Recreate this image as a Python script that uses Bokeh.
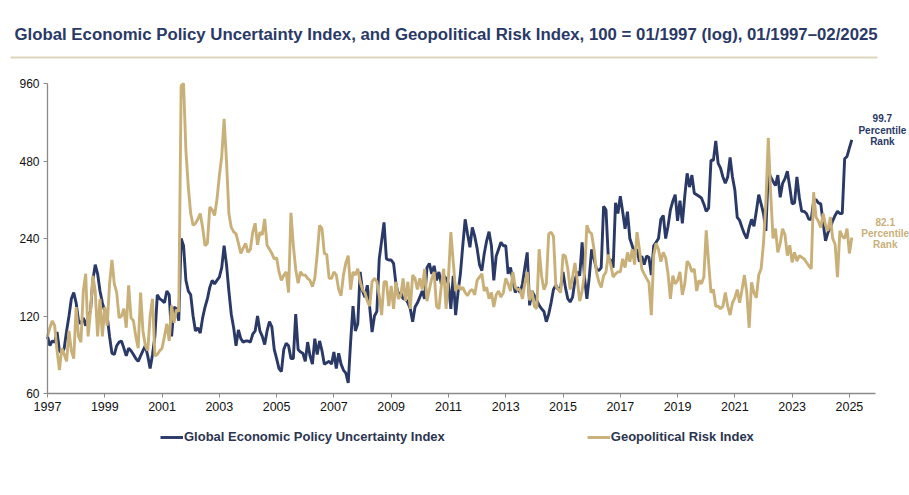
import pandas as pd
from bokeh.plotting import figure
from bokeh.models import (ColumnDataSource, Range1d, FixedTicker, NumeralTickFormatter,
                          Legend, LegendItem, Label, BoxAnnotation)
from bokeh.embed import file_html
from bokeh.resources import INLINE

NAVY = "#2a3966"
GOLD = "#c9b079"
FONT = "Liberation Sans"

title_text = ("Global Economic Policy Uncertainty Index, and Geopolitical Risk Index, "
              "100 = 01/1997 (log), 01/1997\u201302/2025")
epu_label = "Global Economic Policy Uncertainty Index"
gpr_label = "Geopolitical Risk Index"

# monthly values, 01/1997 .. 02/2025 (100 = 01/1997)
epu = [
    100, 92, 96, 95, 104, 88, 86, 90, 105, 120, 140, 148,        # 1997
    135, 115, 112, 118, 110, 120, 125, 165, 190, 175, 150, 135,  # 1998
    125, 120, 100, 86, 85, 92, 95, 96, 90, 84, 90, 88,           # 1999
    85, 82, 80, 84, 88, 92, 84, 75, 85, 100, 145, 140,           # 2000
    138, 135, 150, 145, 100, 130, 128, 115, 240, 225, 165, 150,  # 2001
    145, 120, 105, 108, 103, 118, 130, 140, 155, 165, 160, 165,  # 2002
    170, 185, 225, 190, 150, 122, 108, 92, 106, 98, 95, 96,      # 2003
    96, 95, 102, 105, 120, 105, 100, 93, 105, 114, 109, 89,      # 2004
    82, 75, 73, 89, 94, 92, 82, 82, 122, 89, 87, 86,             # 2005
    80, 95, 84, 78, 98, 85, 96, 88, 78, 79, 80, 78,              # 2006
    87, 75, 86, 78, 74, 72, 66, 95, 131, 105, 112, 178,          # 2007
    150, 142, 158, 130, 104, 120, 125, 200, 235, 277, 200, 198,  # 2008
    198, 192, 160, 145, 148, 140, 140, 135, 128, 114, 130, 135,  # 2009
    142, 150, 140, 185, 192, 175, 188, 165, 178, 160, 172, 168,  # 2010
    160, 128, 172, 121, 148, 175, 225, 285, 250, 222, 265, 245,  # 2011
    220, 190, 180, 210, 235, 255, 225, 165, 205, 218, 232, 225,  # 2012
    225, 175, 185, 165, 148, 155, 148, 160, 185, 212, 132, 150,  # 2013
    144, 138, 132, 128, 125, 114, 122, 135, 152, 158, 152, 155,  # 2014
    178, 155, 140, 136, 142, 165, 178, 172, 232, 170, 140, 170,  # 2015
    218, 200, 183, 180, 185, 320, 310, 200, 198, 185, 330, 300,  # 2016
    350, 305, 262, 305, 240, 225, 210, 218, 195, 205, 190, 205,  # 2017
    203, 173, 225, 232, 240, 285, 295, 240, 268, 310, 335, 355,  # 2018
    281, 337, 275, 350, 430, 380, 423, 360, 355, 350, 345, 327,  # 2019
    306, 315, 483, 483, 575, 470, 450, 416, 393, 416, 496, 416,  # 2020
    370, 290, 282, 265, 250, 240, 265, 285, 268, 306, 355, 327,  # 2021
    300, 257, 438, 416, 400, 385, 423, 347, 393, 410, 438, 380,  # 2022
    327, 330, 416, 347, 306, 306, 300, 285, 285, 335, 340, 330,  # 2023
    327, 275, 235, 253, 265, 281, 295, 306, 300, 300, 490, 500,  # 2024
    540, 580,                                                    # 2025
]
gpr = [
    100, 108, 115, 110, 88, 74, 90, 85, 80, 105, 88, 82,         # 1997
    130, 100, 95, 150, 175, 100, 125, 172, 150, 100, 140, 100,   # 1998
    130, 110, 160, 198, 160, 148, 118, 120, 128, 108, 158, 118,  # 1999
    115, 100, 90, 148, 105, 92, 88, 120, 140, 84, 85, 88,        # 2000
    90, 100, 112, 96, 132, 113, 127, 125, 940, 960, 527, 380,    # 2001
    300, 270, 275, 285, 300, 265, 225, 230, 318, 310, 295, 340,  # 2002
    420, 500, 700, 480, 300, 265, 255, 250, 230, 210, 220, 230,  # 2003
    212, 218, 254, 275, 227, 254, 248, 286, 226, 218, 210, 200,  # 2004
    202, 178, 165, 173, 178, 148, 302, 226, 182, 161, 178, 173,  # 2005
    173, 168, 165, 156, 168, 208, 270, 262, 210, 208, 168, 168,  # 2006
    178, 173, 152, 144, 173, 193, 206, 152, 178, 173, 183, 163,  # 2007
    152, 148, 137, 131, 163, 168, 163, 144, 121, 163, 163, 131,  # 2008
    157, 128, 163, 140, 144, 168, 137, 163, 128, 173, 168, 152,  # 2009
    168, 152, 183, 137, 152, 168, 178, 131, 128, 157, 183, 128,  # 2010
    170, 254, 195, 150, 158, 152, 155, 148, 144, 150, 152, 145,  # 2011
    165, 170, 175, 150, 155, 140, 148, 130, 145, 150, 142, 148,  # 2012
    168, 160, 150, 178, 155, 152, 152, 140, 160, 178, 138, 150,  # 2013
    131, 128, 218, 172, 152, 160, 250, 254, 245, 157, 152, 148,  # 2014
    208, 205, 183, 152, 170, 193, 165, 137, 150, 175, 270, 255,  # 2015
    250, 218, 178, 163, 155, 172, 178, 208, 190, 170, 175, 178,  # 2016
    178, 200, 185, 212, 195, 218, 190, 254, 218, 183, 175, 168,  # 2017
    162, 121, 206, 230, 218, 195, 212, 202, 175, 140, 172, 160,  # 2018
    165, 178, 145, 160, 196, 190, 178, 183, 150, 165, 160, 170,  # 2019
    258, 194, 148, 152, 131, 131, 128, 131, 148, 131, 121, 135,  # 2020
    141, 152, 135, 152, 173, 148, 108, 162, 148, 141, 173, 183,  # 2021
    230, 331, 590, 360, 240, 262, 212, 230, 262, 248, 206, 226,  # 2022
    194, 212, 196, 206, 203, 200, 194, 188, 183, 363, 291, 280,  # 2023
    265, 300, 270, 257, 291, 240, 228, 170, 257, 245, 240, 262,  # 2024
    210, 242,                                                    # 2025
]

x_ticks = list(range(1997, 2026, 2))
y_ticks = [60, 120, 240, 480, 960]

epu_rank = ["99.7", "Percentile", "Rank"]
gpr_rank = ["82.1", "Percentile", "Rank"]

dates = pd.date_range("1997-01-01", periods=len(epu), freq="MS")
src = ColumnDataSource(dict(t=dates.year + (dates.month - 1) / 12, epu=epu, gpr=gpr))

# canvas geometry: the frame fills the canvas, axes sit inside it at fixed places
W, H = 909, 490
X_LEFT, PX_YEAR = 47, 28.64        # pixel of 1997, pixels per year
Y_BASE, PX_DOUBLE = 393, 77.5      # pixel of 60, pixels per doubling
x_range = Range1d(1997 - X_LEFT / PX_YEAR, 1997 + (W - X_LEFT) / PX_YEAR)
y_range = Range1d(60 * 2 ** (-(H - Y_BASE) / PX_DOUBLE), 60 * 2 ** (Y_BASE / PX_DOUBLE))

p = figure(width=W, height=H, x_range=x_range, y_range=y_range, y_axis_type="log",
           toolbar_location=None, output_backend="svg", min_border=0)
p.grid.visible = False
p.outline_line_color = None

r1 = p.line("t", "epu", source=src, line_color=NAVY, line_width=2.9)
r2 = p.line("t", "gpr", source=src, line_color=GOLD, line_width=2.9)

p.xaxis.fixed_location = 60
p.yaxis.fixed_location = 1997
p.xaxis.ticker = FixedTicker(ticks=x_ticks)
p.xaxis.bounds = (1997, 2025.9)
p.yaxis.ticker = FixedTicker(ticks=y_ticks)
p.yaxis.bounds = (60, 960)
p.yaxis.formatter = NumeralTickFormatter(format="0")
for ax in (p.xaxis[0], p.yaxis[0]):
    ax.axis_line_color = "#8a8a8a"
    ax.axis_line_width = 1.3
    ax.major_tick_line_color = "#8a8a8a"
    ax.major_tick_out = 4
    ax.major_tick_in = 0
    ax.minor_tick_line_color = None
    ax.major_label_text_font = FONT
    ax.major_label_text_color = "#111111"
    ax.major_label_standoff = 4
p.xaxis.major_label_text_font_size = "12.5px"
p.yaxis.major_label_text_font_size = "12px"

# title and the rule under it
p.add_layout(Label(x=14, y=H - 34, x_units="screen", y_units="screen", text=title_text,
                   text_baseline="middle", text_font=FONT, text_font_style="bold",
                   text_font_size="16.8px", text_color=NAVY))
p.add_layout(BoxAnnotation(left=10, right=877, bottom=H - 58, top=H - 56,
                           left_units="screen", right_units="screen",
                           bottom_units="screen", top_units="screen",
                           fill_color="#ddd6be", fill_alpha=1, line_color=None))

legend = Legend(items=[LegendItem(label=epu_label, renderers=[r1]),
                       LegendItem(label=gpr_label, renderers=[r2])],
                orientation="horizontal", location=(160, H - 444), spacing=142,
                glyph_width=23, glyph_height=14, label_standoff=1, padding=0, margin=0,
                border_line_color=None, background_fill_alpha=0,
                label_text_font=FONT, label_text_font_style="bold",
                label_text_font_size="13px", label_text_color="#2c3550")
p.add_layout(legend)

for txt, yv in zip(epu_rank, [704, 631, 573]):
    p.add_layout(Label(x=2026.15, y=yv, text=txt, text_align="center", text_baseline="middle",
                       text_font=FONT, text_font_style="bold", text_font_size="10px",
                       text_color=NAVY))
for txt, yv in zip(gpr_rank, [278, 250, 227]):
    p.add_layout(Label(x=2026.25, y=yv, text=txt, text_align="center", text_baseline="middle",
                       text_font=FONT, text_font_style="bold", text_font_size="10px",
                       text_color=GOLD))

open("out.html", "w").write(file_html(p, INLINE))
